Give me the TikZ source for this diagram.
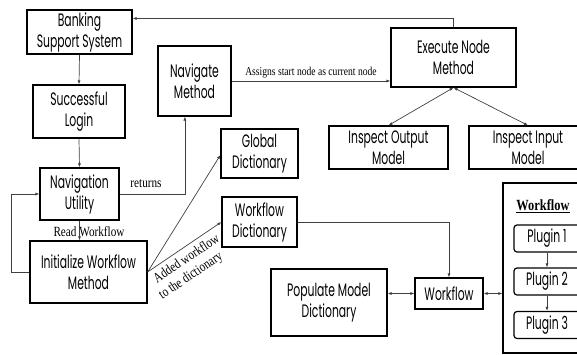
\documentclass[tikz,border=0pt]{standalone}
\usepackage{fontspec}
\newfontfamily\boxfont[FakeStretch=0.6]{Poppins}
\newfontfamily\labfont[FakeStretch=0.8]{Liberation Serif}
\usetikzlibrary{arrows.meta}
\usetikzlibrary{calc}

\begin{document}
\begin{tikzpicture}[
    x=1pt, y=-1pt,
    box/.style={rectangle,draw=black,line width=1.2pt,align=center,inner sep=1pt,
        font=\boxfont\fontsize{18}{21}\selectfont},
    plug/.style={box,rounded corners=3pt},
    link/.style={draw=black!75,line width=0.7pt,-{Latex[length=4pt,width=3pt]}},
    dlink/.style={link,{Latex[length=4pt,width=3pt]}-{Latex[length=4pt,width=3pt]}},
    lab/.style={font=\labfont\fontsize{12}{12}\selectfont,inner sep=1pt},
    biglab/.style={lab,font=\labfont\fontsize{14}{14}\selectfont},
]
\useasboundingbox (0,0) rectangle (577,354);

% left column
\node[box,minimum width=105pt,minimum height=44pt] (bss) at (79.5,32) {Banking\\Support System};
\node[box,minimum width=92pt,minimum height=53pt] (login) at (79,111.5) {Successful\\Login};
\node[box,minimum width=79pt,minimum height=52pt] (navu) at (79.5,194) {Navigation\\Utility};
\node[box,minimum width=117pt,minimum height=62pt] (init) at (88.5,272) {Initialize Workflow\\Method};
% middle column
\node[box,minimum width=73pt,minimum height=70pt] (navm) at (194.5,81) {Navigate\\Method};
\node[box,minimum width=77pt,minimum height=49pt] (gdict) at (259.5,153.5) {Global\\Dictionary};
\node[box,minimum width=75pt,minimum height=50pt] (wdict) at (259.5,222) {Workflow\\Dictionary};
% execution
\node[box,minimum width=125pt,minimum height=59pt] (exec) at (453.5,57.5) {Execute Node\\Method};
\node[box,minimum width=119pt,minimum height=43pt] (inout) at (388.5,147.5) {Inspect Output\\Model};
\node[box,minimum width=118pt,minimum height=43pt] (inin) at (528,147.5) {Inspect Input\\Model};
% workflow
\node[box,minimum width=116pt,minimum height=67pt] (pop) at (329,302.5) {Populate Model\\Dictionary};
\node[box,minimum width=68pt,minimum height=31pt] (wf) at (449,293.5) {Workflow};
\node[box,minimum width=80pt,minimum height=170pt] (cont) at (543,268) {};
\node[lab,font=\labfont\bfseries\fontsize{15.5}{15.5}\selectfont] (wftitle) at (543,206) {\underline{Workflow}};
\node[plug,minimum width=66pt,minimum height=27pt] (p1) at (547,238.5) {Plugin 1};
\node[plug,minimum width=66pt,minimum height=27pt] (p2) at (547,281.5) {Plugin 2};
\node[plug,minimum width=66pt,minimum height=27pt] (p3) at (547,325) {Plugin 3};

% connectors
\draw[link] (exec.north) |- ($(bss.north east)!0.2!(bss.south east)$);
\draw[link] (bss.south) -- (login.north);
\draw[link] (login.south) -- (navu.north);
\draw[link] (navu.south) -- (navu.south |- init.north);
\node[biglab] (readwf) at (89,232) {Read Workflow};
\draw[link] (init.west) -- ++(-18,0) |- (navu.west);
\draw[link] (navu.east) -| ($(navm.south west)!0.37!(navm.south east)$);
\node[biglab] (ret) at (146,184) {returns};
\draw[link] (navm.east) -- (navm.east -| exec.west) node[lab,midway,above=2pt] (assign) {Assigns start node as current node};
\draw[link] (init.east) -- ($(gdict.north west)!0.53!(gdict.south west)$);
\draw[link] (init.east) -- (wdict.west);
\node[biglab,rotate=34] (added) at (186,258) {Added workflow};
\node[biglab,rotate=34] (todict) at (191,276) {to the dictionary};
\draw[link] (wdict.east) -| (wf.north);
\draw[dlink] (wf.west -| pop.east) -- (wf.west);
\draw[dlink] (wf.east) -- (wf.east -| cont.west);
\draw[dlink] (exec.south) -- (inout.north);
\draw[dlink] (exec.south) -- (inin.north);
\draw[link] (p1.south) -- (p2.north);
\draw[link] (p2.south) -- (p3.north);
\end{tikzpicture}
\end{document}
